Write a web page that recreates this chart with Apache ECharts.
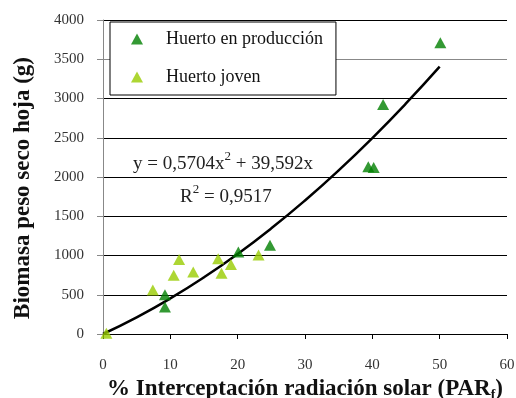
<!DOCTYPE html>
<html>
<head>
<meta charset="utf-8">
<script src="https://cdn.jsdelivr.net/npm/echarts@6/dist/echarts.min.js"></script>
<style>
html,body{margin:0;padding:0;background:#fff;}
#chart{width:516px;height:398px;}
</style>
</head>
<body>
<div id="chart"></div>
<script>
// Huerto en producción: [% PAR interceptada, biomasa (g)]
const produccion = [
  [9.2, 500], [9.2, 345], [20.1, 1045], [24.8, 1130],
  [39.4, 2130], [40.2, 2120], [41.6, 2925], [50.1, 3710]
];
// Huerto joven
const joven = [
  [0.5, 10], [7.4, 560], [10.5, 750], [11.3, 950], [13.4, 790],
  [17.1, 960], [17.6, 775], [19.0, 885], [23.1, 1005]
];
// Polynomial trend coefficients (y = a·x² + b·x)
const coefA = 0.5704;
const coefB = 39.592;
const r2 = '0,9517';
const trendX = [0, 5, 10, 15, 20, 25, 30, 35, 40, 45, 50];
const trend = trendX.map(x => [x, coefA * x * x + coefB * x]);

const serif = '"Liberation Serif", "DejaVu Serif", serif';
const supRich = {
  n: { fontFamily: serif, fontSize: 19, fill: '#222', lineHeight: 24, verticalAlign: 'bottom' },
  sup: { fontFamily: serif, fontSize: 13, fill: '#222', lineHeight: 13, verticalAlign: 'top' }
};
const chart = echarts.init(document.getElementById('chart'));
chart.setOption({
  animation: false,
  backgroundColor: '#fff',
  grid: { left: 103, right: 9, top: 20, bottom: 64, containLabel: false, outerBoundsMode: 'none' },
  legend: {
    left: 110, top: 22,
    orient: 'vertical',
    backgroundColor: '#fff',
    borderColor: '#000', borderWidth: 1,
    padding: [8, 13, 9, 21],
    itemGap: 20, itemWidth: 12, itemHeight: 11,
    textStyle: { fontFamily: serif, fontSize: 18, color: '#111', padding: [0, 0, 0, 18] },
    data: [
      { name: 'Huerto en producción', icon: 'triangle' },
      { name: 'Huerto joven', icon: 'triangle' }
    ]
  },
  xAxis: {
    type: 'value', min: 0, max: 60, interval: 10,
    name: '% Interceptación radiación solar (PAR{s|f})',
    nameLocation: 'middle', nameGap: 43,
    nameTextStyle: {
      fontFamily: serif, fontSize: 23, fontWeight: 'bold', color: '#111',
      rich: { s: { fontFamily: serif, fontSize: 14, fontWeight: 'bold', color: '#111', verticalAlign: 'bottom', padding: [11, 0, 0, 0] } }
    },
    axisLine: { lineStyle: { color: '#000', width: 1 } },
    axisTick: { length: 5, lineStyle: { color: '#000' } },
    axisLabel: { margin: 24, fontFamily: serif, fontSize: 15, color: '#333' },
    splitLine: { show: false }
  },
  yAxis: {
    type: 'value', min: 0, max: 4000, interval: 500,
    axisLine: { show: true, lineStyle: { color: '#888', width: 1 } },
    axisTick: { show: true, length: 6, lineStyle: { color: '#888' } },
    axisLabel: { margin: 19, fontFamily: serif, fontSize: 15, color: '#333', formatter: v => String(v) },
    splitLine: { show: true, lineStyle: { color: ['#000','#000','#000','#000','#000','#000','#000','#888','#000'], width: 1 } }
  },
  graphic: [
    {
      type: 'text', x: 23, y: 188, rotation: Math.PI / 2,
      style: {
        text: 'Biomasa peso seco hoja (g)',
        font: 'bold 23px ' + serif, fill: '#111',
        align: 'center', verticalAlign: 'middle'
      }
    },
    {
      type: 'text', left: 133, top: 150,
      style: { text: '{n|y = 0,5704x}{sup|2}{n| + 39,592x}', rich: supRich }
    },
    {
      type: 'text', left: 180, top: 183,
      style: { text: '{n|R}{sup|2}{n| = ' + r2 + '}', rich: supRich }
    }
  ],
  series: [
    {
      name: 'Tendencia', type: 'line', data: trend, smooth: true,
      showSymbol: false, symbol: 'none', silent: true,
      lineStyle: { color: '#000', width: 2.5 }, z: 3
    },
    {
      name: 'Huerto en producción', type: 'scatter', data: produccion,
      symbol: 'triangle', symbolSize: [12, 11],
      itemStyle: { color: '#008000' }, z: 4
    },
    {
      name: 'Huerto joven', type: 'scatter', data: joven,
      symbol: 'triangle', symbolSize: [12, 11],
      itemStyle: { color: '#99cc00' }, z: 4
    }
  ]
});
</script>
</body>
</html>
